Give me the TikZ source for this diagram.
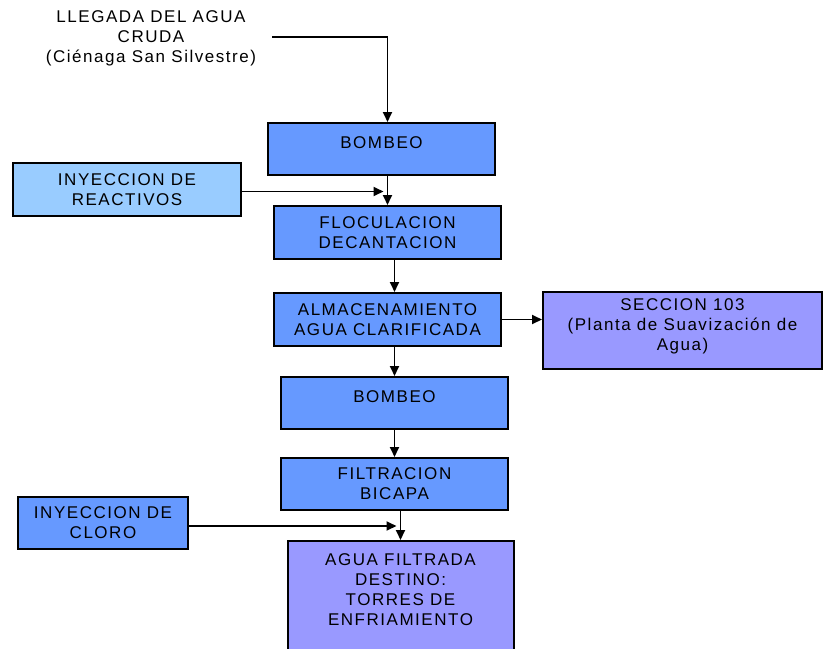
\documentclass[tikz,border=0pt]{standalone}
\usepackage{fontspec}
\setmainfont{Liberation Sans}[LetterSpace=9]
\usetikzlibrary{arrows.meta}
\definecolor{azul}{HTML}{6699FF}
\definecolor{celeste}{HTML}{99CCFF}
\definecolor{lila}{HTML}{9999FF}
\begin{document}
\begin{tikzpicture}[x=1pt, y=-1pt,
    caja/.style={draw=black, line width=2pt, fill=azul, align=center, inner sep=0pt,
      font=\fontsize{17}{20}\selectfont},
    texto/.style={align=center, inner sep=0pt, font=\fontsize{17}{20}\selectfont},
    flecha/.style={line width=1.8pt, -{Triangle[length=10pt,width=9pt]}}]
  \useasboundingbox (0,0) rectangle (824,648);
  \clip (0,0) rectangle (824,648);
  \node[texto] (cruda) at (151,38) {LLEGADA DEL AGUA\\CRUDA\\(Ciénaga San Silvestre)};
  \coordinate (llegada) at (272,37);
  \node[caja, minimum width=227pt, minimum height=52pt, text depth=12pt] (bombA) at (381.5,149) {BOMBEO};
  \node[caja, fill=celeste, minimum width=228pt, minimum height=53pt] (reac) at (127,189.5) {INYECCION DE\\REACTIVOS};
  \node[caja, minimum width=227pt, minimum height=53pt] (floc) at (387.5,232.5) {FLOCULACION\\DECANTACION};
  \node[caja, minimum width=227pt, minimum height=53pt] (alma) at (387.5,319.5) {ALMACENAMIENTO\\AGUA CLARIFICADA};
  \node[caja, fill=lila, minimum width=279pt, minimum height=77pt, text depth=12pt] (secc) at (682.5,330.5) {SECCION 103\\(Planta de Suavización de\\Agua)};
  \node[caja, minimum width=227pt, minimum height=52pt, text depth=12pt] (bombB) at (394.5,403) {BOMBEO};
  \node[caja, minimum width=227pt, minimum height=52pt] (filt) at (394.5,484) {FILTRACION\\BICAPA};
  \node[caja, minimum width=170pt, minimum height=52pt] (cloro) at (103,523) {INYECCION DE\\CLORO};
  \node[caja, fill=lila, minimum width=226pt, minimum height=114pt, text depth=16pt] (agua) at (400.5,598) {AGUA FILTRADA\\DESTINO:\\TORRES DE\\ENFRIAMIENTO};
  \draw[flecha] (llegada) -| (bombA.north -| floc.north);
  \draw[flecha] (bombA.south -| floc.north) -- (floc.north);
  \draw[flecha, shorten >=4pt] ([yshift=-2pt]reac.east) -- ([yshift=-2pt]reac.east -| floc.north);
  \draw[flecha] (floc.south -| bombB.north) -- (alma.north -| bombB.north);
  \draw[flecha] (alma.east) -- (alma.east -| secc.west);
  \draw[flecha] (alma.south -| bombB.north) -- (bombB.north);
  \draw[flecha] (bombB.south) -- (filt.north);
  \draw[flecha] (filt.south -| agua.north) -- (agua.north);
  \draw[flecha, shorten >=4pt] ([yshift=-3pt]cloro.east) -- ([yshift=-3pt]cloro.east -| agua.north);
\end{tikzpicture}
\end{document}
